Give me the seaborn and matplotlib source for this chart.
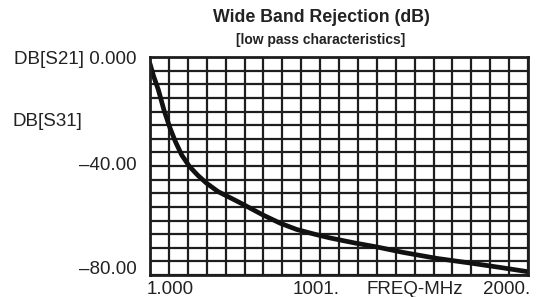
import matplotlib
matplotlib.use("Agg")
import matplotlib.pyplot as plt
import seaborn as sns
import numpy as np
import pandas as pd

# ---- data ----
freq_mhz = [1, 20, 45, 75, 107, 135, 169, 210, 255, 300, 361, 424, 486, 599, 690, 777, 870,
            953, 1080, 1200, 1339, 1517, 1693, 1850, 2000]
rejection_db = [-2.5, -7.0, -12.0, -19.5, -26.1, -31.0, -36.0, -40.2, -43.5, -46.3, -49.4,
                -51.6, -53.8, -58.0, -61.0, -63.3, -65.0, -66.4, -68.2, -69.7, -71.7,
                -73.9, -75.6, -77.2, -78.8]
x_tick_labels = ["1.000", "1001.", "FREQ-MHz", "2000."]
y_tick_labels = ["DB[S21] 0.000", "\u201340.00", "\u201380.00"]
y_extra_label = "DB[S31]"
title = "Wide Band Rejection (dB)"
subtitle = "[low pass characteristics]"

x_min, x_max = 1, 2000
y_min, y_max = -80, 0
n_xdiv, n_ydiv = 20, 16

df = pd.DataFrame({"freq": freq_mhz, "db": rejection_db})

sns.set_theme(style="white")
plt.rcParams["font.family"] = ["Liberation Sans", "DejaVu Sans"]

W, H = 537, 297
fig = plt.figure(figsize=(W / 100, H / 100), dpi=100)
L, R, T, B = 150, 528, 57, 275
ax = fig.add_axes([L / W, 1 - B / H, (R - L) / W, (B - T) / H])

grid_col = "#1e1e1e"
ax.set_xlim(x_min, x_max)
ax.set_ylim(y_min, y_max)
ax.set_xticks(np.linspace(x_min, x_max, n_xdiv + 1))
ax.set_yticks(np.linspace(y_min, y_max, n_ydiv + 1))
ax.grid(True, color=grid_col, linewidth=1.6)
ax.tick_params(length=0, labelbottom=False, labelleft=False)
for s in ax.spines.values():
    s.set_color(grid_col)
    s.set_linewidth(2.0)

sns.lineplot(data=df, x="freq", y="db", ax=ax, color="#111111", linewidth=3.4,
             solid_joinstyle="round", solid_capstyle="round")
ax.set_xlabel("")
ax.set_ylabel("")

def px(x, y):
    return x / W, 1 - y / H

txt = "#222222"
fig.text(*px(321, 18), title, ha="center", va="center", fontsize=12.8, fontweight="bold", color=txt)
fig.text(*px(321, 40), subtitle, ha="center", va="center", fontsize=10, fontweight="bold", color=txt)

fs = 13.5
fig.text(*px(137, 59), y_tick_labels[0], ha="right", va="center", fontsize=fs, color=txt)
fig.text(*px(137, 165), y_tick_labels[1], ha="right", va="center", fontsize=fs, color=txt)
fig.text(*px(137, 269), y_tick_labels[2], ha="right", va="center", fontsize=fs, color=txt)
fig.text(*px(12, 122), y_extra_label, ha="left", va="center", fontsize=fs, color=txt)

fig.text(*px(147, 289), x_tick_labels[0], ha="left", va="center", fontsize=fs, color=txt)
fig.text(*px(340, 289), x_tick_labels[1], ha="right", va="center", fontsize=fs, color=txt)
fig.text(*px(415, 289), x_tick_labels[2], ha="center", va="center", fontsize=fs, color=txt)
fig.text(*px(530, 289), x_tick_labels[3], ha="right", va="center", fontsize=fs, color=txt)

fig.savefig("out.png", dpi=100)
